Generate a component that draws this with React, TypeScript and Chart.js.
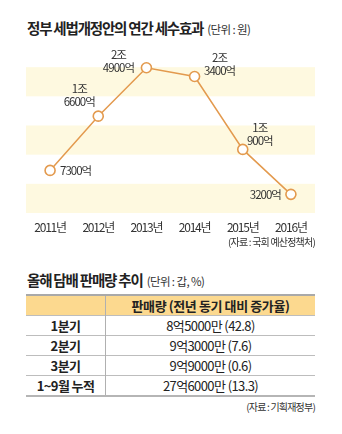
import React, { useEffect, useRef } from "react";
import { Chart, registerables } from "chart.js";

Chart.register(...registerables);

// ---- Data ----
const years = ["2011년", "2012년", "2013년", "2014년", "2015년", "2016년"];
const taxEffect = [7300, 16600, 24900, 23400, 10900, 3200]; // 억원
const yTicks = [0, 5000, 10000, 15000, 20000, 25000, 30000];

const quarters = ["1분기", "2분기", "3분기", "1~9월 누적"];
const salesVolume = ["8억5000만", "9억3000만", "9억9000만", "27억6000만"];
const growthRate = ["42.8", "7.6", "0.6", "13.3"];

// ---- Styles ----
const FONT = '"Noto Sans CJK KR", "Noto Sans", sans-serif';
const LINE_COLOR = "#E39A4E";
const BAND_COLOR = "#FEF9E0";
const TEXT_COLOR = "#333333";

// label placement relative to each point (last line at dy, lines stacked upward)
const labelPlacement = [
  { dx: 10, dy: 0, align: "left" },
  { dx: -19, dy: -15, align: "center" },
  { dx: -28, dy: 0, align: "center" },
  { dx: 25, dy: -6, align: "center" },
  { dx: 17, dy: -9, align: "center" },
  { dx: -10, dy: 0, align: "right" },
];

function formatValue(v: number): string[] {
  const jo = Math.floor(v / 10000);
  const eok = v % 10000;
  return jo > 0 ? [`${jo}조`, `${eok}억`] : [`${eok}억`];
}

const bandPlugin = {
  id: "bands",
  beforeDraw(chart: any) {
    const ctx = chart.ctx;
    const { left, right } = chart.chartArea;
    const y = chart.scales.y;
    ctx.save();
    ctx.fillStyle = BAND_COLOR;
    for (let i = 0; i < yTicks.length - 1; i += 2) {
      const y0 = y.getPixelForValue(yTicks[i]);
      const y1 = y.getPixelForValue(yTicks[i + 1]);
      ctx.fillRect(left, y1, right - left, y0 - y1);
    }
    ctx.restore();
    // condensed look for tick text
    (ctx as any).letterSpacing = "-1.2px";
  },
};

const valueLabelPlugin = {
  id: "valueLabels",
  afterDatasetsDraw(chart: any) {
    const ctx = chart.ctx;
    const meta = chart.getDatasetMeta(0);
    ctx.save();
    (ctx as any).letterSpacing = "-1px";
    ctx.fillStyle = TEXT_COLOR;
    ctx.font = `11.5px ${FONT}`;
    ctx.textBaseline = "middle";
    meta.data.forEach((pt: any, i: number) => {
      const lines = formatValue(taxEffect[i]);
      const p = labelPlacement[i];
      ctx.textAlign = p.align;
      lines.forEach((ln, k) => {
        const y = pt.y + p.dy - (lines.length - 1 - k) * 13;
        ctx.fillText(ln, pt.x + p.dx, y);
      });
    });
    ctx.restore();
  },
};

function LineChart() {
  const ref = useRef<HTMLCanvasElement | null>(null);
  useEffect(() => {
    if (!ref.current) return;
    const chart = new Chart(ref.current, {
      type: "line",
      data: {
        labels: years,
        datasets: [
          {
            data: taxEffect,
            borderColor: LINE_COLOR,
            borderWidth: 1.5,
            pointRadius: 5,
            pointBorderWidth: 1.6,
            pointBackgroundColor: "#ffffff",
            pointBorderColor: LINE_COLOR,
            tension: 0,
          },
        ],
      },
      options: {
        responsive: false,
        animation: false,
        layout: { padding: { left: 26, right: 27, top: 38, bottom: 0 } },
        plugins: { legend: { display: false }, tooltip: { enabled: false } },
        scales: {
          x: {
            offset: true,
            grid: { display: false, drawTicks: false },
            border: { display: false },
            ticks: {
              color: TEXT_COLOR,
              font: { family: FONT, size: 12 },
              padding: 7,
              maxRotation: 0,
              autoSkip: false,
            },
            afterFit: (s: any) => {
              s.height = 37;
            },
          },
          y: { display: false, min: 0, max: 30000 },
        },
      },
      plugins: [bandPlugin, valueLabelPlugin],
    });
    return () => chart.destroy();
  }, []);
  return (
    <canvas
      ref={ref}
      width={342}
      height={250}
      style={{ position: "absolute", left: 0, top: 0, width: 342, height: 250 }}
    />
  );
}

const titleStyle: React.CSSProperties = {
  position: "absolute",
  left: 27,
  fontFamily: FONT,
  fontWeight: 700,
  fontSize: 14.5,
  letterSpacing: "-1.2px",
  lineHeight: "20px",
  color: "#222",
  whiteSpace: "nowrap",
};
const unitStyle: React.CSSProperties = {
  fontWeight: 400,
  fontSize: 11.5,
  letterSpacing: "-0.6px",
  color: "#333",
  marginLeft: 2,
};
const sourceStyle: React.CSSProperties = {
  position: "absolute",
  right: 27,
  fontFamily: FONT,
  fontSize: 10,
  letterSpacing: "-0.8px",
  lineHeight: "14px",
  color: "#333",
  whiteSpace: "nowrap",
};

const cellBase: React.CSSProperties = {
  fontFamily: FONT,
  fontSize: 13,
  color: "#222",
  textAlign: "center",
  padding: 0,
  letterSpacing: "-0.6px",
  whiteSpace: "nowrap",
};

export default function App() {
  return (
    <div
      style={{
        position: "absolute",
        left: 0,
        top: 0,
        width: 342,
        height: 434,
        background: "#fff",
        overflow: "hidden",
      }}
    >
      <div style={{ ...titleStyle, top: 18 }}>
        정부 세법개정안의 연간 세수효과 <span style={unitStyle}>(단위 : 원)</span>
      </div>
      <LineChart />
      <div style={{ ...sourceStyle, top: 235 }}>(자료 : 국회 예산정책처)</div>

      <div style={{ ...titleStyle, top: 270 }}>
        올해 담배 판매량 추이 <span style={unitStyle}>(단위 : 갑, %)</span>
      </div>
      <table
        style={{
          position: "absolute",
          left: 26,
          top: 294,
          width: 289,
          borderCollapse: "collapse",
          borderTop: "2px solid #a9a9a9",
          borderBottom: "2px solid #b5b5b5",
        }}
      >
        <thead>
          <tr style={{ height: 20, background: "#FCD98F" }}>
            <th style={{ ...cellBase, width: 79, borderRight: "1px solid #b0b0b0" }}></th>
            <th style={{ ...cellBase, fontWeight: 700, letterSpacing: "-0.4px" }}>
              판매량 (전년 동기 대비 증가율)
            </th>
          </tr>
        </thead>
        <tbody>
          {quarters.map((q, i) => (
            <tr key={q} style={{ height: 20, borderTop: "1px solid #bdbdbd" }}>
              <td style={{ ...cellBase, fontWeight: 700, borderRight: "1px solid #b0b0b0" }}>{q}</td>
              <td style={cellBase}>
                {salesVolume[i]} ({growthRate[i]})
              </td>
            </tr>
          ))}
        </tbody>
      </table>
      <div style={{ ...sourceStyle, top: 400 }}>(자료 : 기획재정부)</div>
    </div>
  );
}
